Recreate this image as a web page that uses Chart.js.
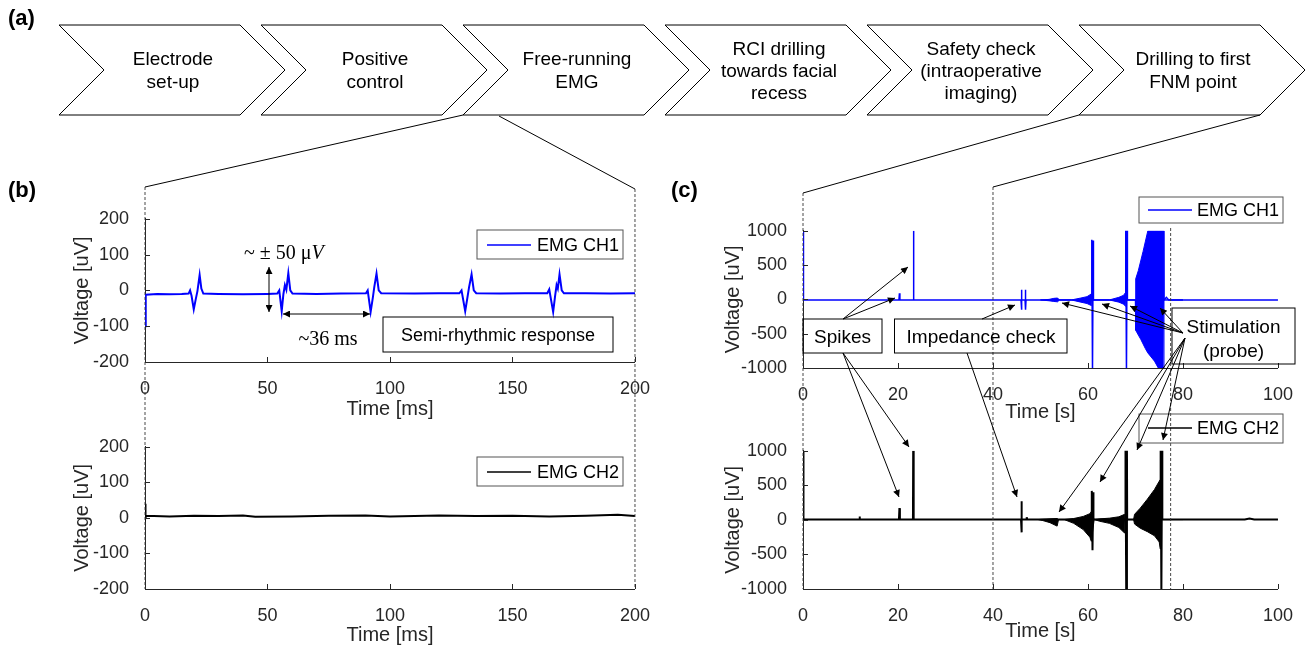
<!DOCTYPE html>
<html>
<head>
<meta charset="utf-8">
<script src="https://cdn.jsdelivr.net/npm/chart.js@4.4.1/dist/chart.umd.min.js"></script>
<style>
  html, body { margin: 0; padding: 0; background: #fff; overflow: hidden; }
  #page { position: relative; width: 1307px; height: 645px; }
  canvas { position: absolute; }
  #over { position: absolute; left: 0; top: 0; }
  #over text { font-family: "Liberation Sans", Arial, sans-serif; fill: #000; }
  #over .serif { font-family: "Liberation Serif", "Times New Roman", serif; }
</style>
</head>
<body>
<div id="page">
  <canvas id="b1" width="598" height="222" style="left:60px;top:200px"></canvas>
  <canvas id="b2" width="598" height="221" style="left:60px;top:428px"></canvas>
  <canvas id="c1" width="591" height="216" style="left:710px;top:212px"></canvas>
  <canvas id="c2" width="591" height="217" style="left:710px;top:432px"></canvas>

  <svg id="over" width="1307" height="645">
    <defs>
      <marker id="ah" viewBox="0 0 10 10" refX="10" refY="5" markerWidth="9" markerHeight="7"
              markerUnits="userSpaceOnUse" orient="auto-start-reverse">
        <path d="M0,0 L10,5 L0,10 z" fill="#000"/>
      </marker>
    </defs>
    <g id="chevrons"></g>
    <g id="guides" stroke="#333" stroke-width="1" fill="none"></g>

    <!-- panel labels -->
    <text x="8" y="17" font-size="22" font-weight="bold" dominant-baseline="central">(a)</text>
    <text x="8" y="189" font-size="22" font-weight="bold" dominant-baseline="central">(b)</text>
    <text x="671" y="189" font-size="22" font-weight="bold" dominant-baseline="central">(c)</text>

    <!-- (b) annotations -->
    <rect x="477" y="230" width="146" height="29" fill="none" stroke="#555" stroke-width="1"/>
    <line x1="487" y1="245" x2="531" y2="245" stroke="#0000ff" stroke-width="1.5"/>
    <text x="537" y="245" font-size="18" dominant-baseline="central">EMG CH1</text>

    <rect x="477" y="457" width="146" height="29" fill="none" stroke="#555" stroke-width="1"/>
    <line x1="487" y1="472" x2="531" y2="472" stroke="#000" stroke-width="1.5"/>
    <text x="537" y="472" font-size="18" dominant-baseline="central">EMG CH2</text>

    <rect x="383" y="317" width="230" height="35" fill="none" stroke="#000" stroke-width="1"/>
    <text x="498" y="335" font-size="18" text-anchor="middle" dominant-baseline="central">Semi-rhythmic response</text>

    <text class="serif" x="244" y="252" font-size="20" dominant-baseline="central">~ ± 50 μ<tspan font-style="italic">V</tspan></text>
    <line x1="269" y1="267" x2="269" y2="312" stroke="#000" stroke-width="1" marker-start="url(#ah)" marker-end="url(#ah)"/>
    <line x1="283" y1="314" x2="370" y2="314" stroke="#000" stroke-width="1" marker-start="url(#ah)" marker-end="url(#ah)"/>
    <text class="serif" x="328" y="338" font-size="20" text-anchor="middle" dominant-baseline="central">~36 ms</text>

    <!-- (c) annotations -->
    <rect x="1139" y="197" width="144" height="26" fill="none" stroke="#555" stroke-width="1"/>
    <line x1="1148" y1="210" x2="1192" y2="210" stroke="#0000ff" stroke-width="1.5"/>
    <text x="1197" y="210" font-size="18" dominant-baseline="central">EMG CH1</text>

    <rect x="1139" y="414" width="144" height="29" fill="none" stroke="#555" stroke-width="1"/>
    <line x1="1148" y1="428" x2="1192" y2="428" stroke="#000" stroke-width="1.5"/>
    <text x="1197" y="428" font-size="18" dominant-baseline="central">EMG CH2</text>

    <rect x="803" y="319" width="79" height="34" fill="none" stroke="#000" stroke-width="1"/>
    <text x="842.5" y="336" font-size="19" text-anchor="middle" dominant-baseline="central">Spikes</text>
    <rect x="894.5" y="319" width="172.5" height="34" fill="none" stroke="#000" stroke-width="1"/>
    <text x="981" y="336" font-size="19" text-anchor="middle" dominant-baseline="central">Impedance check</text>
    <rect x="1172" y="308" width="123" height="56" fill="none" stroke="#000" stroke-width="1"/>
    <text x="1233.5" y="326" font-size="19" text-anchor="middle" dominant-baseline="central">Stimulation</text>
    <text x="1233.5" y="350" font-size="19" text-anchor="middle" dominant-baseline="central">(probe)</text>

    <g stroke="#000" stroke-width="1" marker-end="url(#ah)">
      <line x1="843" y1="319" x2="908" y2="267"/>
      <line x1="843" y1="319" x2="895" y2="298"/>
      <line x1="843" y1="353" x2="899" y2="497"/>
      <line x1="843" y1="353" x2="909" y2="447"/>
      <line x1="982" y1="319" x2="1015" y2="305"/>
      <line x1="967" y1="353" x2="1017" y2="497"/>
      <line x1="1183" y1="333" x2="1062" y2="303"/>
      <line x1="1183" y1="333" x2="1102" y2="304"/>
      <line x1="1183" y1="333" x2="1130" y2="306"/>
      <line x1="1183" y1="333" x2="1160" y2="308"/>
      <line x1="1185" y1="338" x2="1059" y2="512"/>
      <line x1="1185" y1="338" x2="1100" y2="482"/>
      <line x1="1185" y1="338" x2="1137" y2="450"/>
      <line x1="1185" y1="338" x2="1163" y2="440"/>
    </g>
  </svg>
</div>

<script>
// Workflow steps (a)
const steps = [
  ["Electrode", "set-up"],
  ["Positive", "control"],
  ["Free-running", "EMG"],
  ["RCI drilling", "towards facial", "recess"],
  ["Safety check", "(intraoperative", "imaging)"],
  ["Drilling to first", "FNM point"]
];

// Axis ticks
const bXTicks = [0, 50, 100, 150, 200];
const bYTicks = [-200, -100, 0, 100, 200];
const cXTicks = [0, 20, 40, 60, 80, 100];
const cYTicks = [-1000, -500, 0, 500, 1000];

// (b) free-running EMG, time in ms, voltage in uV
const b1T = [0, 0.3, 5, 10, 15,
  17.8, 18.4, 19.0, 19.9, 20.7, 21.4, 22.3, 23.0, 23.8,
  30, 40, 50, 54.0, 54.8, 55.8, 56.5, 57.1, 57.7, 58.5, 59.3, 60.2,
  70, 80, 90.2, 90.9, 92.1, 93.0, 93.6, 94.5, 95.4, 96.4,
  110, 120, 128.3, 129.2, 130.7, 131.6, 132.3, 133.3, 134.2, 135.2,
  145, 155, 164.2, 165.0, 166.6, 167.4, 168.0, 168.5, 169.2, 170.1, 171.0,
  180, 190, 200];
const b1V = [-100, -12, -10, -11, -10,
  -9, 0, -15, -53, -25, -2, 43, 5, -9,
  -10, -11, -10, -9, 0, -58, -10, 15, 2, 48, 0, -9,
  -10, -9, -8, 0, -60, -20, 10, 47, 0, -8,
  -9, -8, -8, 0, -58, -20, 10, 45, 0, -8,
  -9, -8, -8, 3, -60, -15, 15, 5, 45, 0, -8,
  -8, -9, -8];

const b2T = [0, 0.2, 0.5, 10, 20, 30, 40, 45, 60, 75, 90, 100, 120, 135, 150, 165, 180, 193, 200];
const b2V = [40, 0, 6, 4, 6, 5, 7, 3, 4, 6, 7, 4, 7, 5, 6, 4, 6, 9, 5];

// (c) drilling session, time in s, voltage in uV
const c1T = [0, 0.1, 20.2, 20.3, 20.4, 23.2, 23.25, 23.35,
  45.9, 45.95, 46.05, 46.1, 46.75, 46.8, 46.9, 46.95,
  60.75, 60.8, 60.95, 61.1, 61.15, 67.9, 67.95, 68.1, 68.25, 68.3,
  76.0, 76.5, 77.0, 100];
const c1V = [1000, -8, -8, 90, -8, -8, 1000, -8,
  -8, 140, -150, -8, -8, 140, -150, -8,
  -8, 870, -1050, 860, -8, -8, 1050, -1050, 1050, -8,
  -8, 30, -8, -8];
// envelope of dense stimulation bursts on CH1
const c1EnvT = [50, 51.8, 52.8, 53.6, 54.0, 56.5, 58.5, 59.8, 60.7, 60.8,
  64.5, 66.5, 67.5, 67.9, 68.0, 69.95, 70.05, 70.6, 71.1, 71.6, 72.1, 72.6, 74.0, 74.8, 75.9, 76.0, 80];
const c1EnvUp = [-8, 0, 15, 20, -8, -8, 20, 40, 80, -8,
  -8, 30, 60, 100, -8, -8, 300, 420, 560, 700, 850, 1000, 1000, 1000, 1000, -8, -8];
const c1EnvLo = [-8, -20, -30, -35, -8, -8, -40, -60, -90, -8,
  -8, -40, -70, -100, -8, -8, -450, -520, -580, -650, -720, -780, -900, -1000, -1000, -8, -8];

const c2T = [0, 0.1, 11.8, 11.9, 12.0, 20.2, 20.3, 20.4, 23.15, 23.2, 23.3,
  45.9, 45.95, 46.05, 46.1, 47.0, 47.1, 47.2,
  60.75, 60.8, 60.95, 61.1, 61.15, 67.85, 67.9, 68.05, 68.2, 68.25,
  75.25, 75.3, 75.45, 75.6, 75.65, 93, 94, 95, 100];
const c2V = [1000, 5, 5, 50, 5, 5, 170, 5, 5, 1000, 5,
  5, 270, -180, 5, 5, 40, 5,
  5, 420, -440, 400, 5, 5, 1050, -1050, 1050, 5,
  5, 1050, -1050, 1050, 5, 5, 20, 5, 5];
// envelope of stimulation responses on CH2
const c2EnvT = [49.5, 50.5, 52, 53.5, 53.8, 55.0, 57, 59, 60.4, 60.7, 61.3,
  62.5, 64.5, 66.5, 67.7, 67.8, 69.6, 69.8, 71, 72.5, 74, 75.0, 75.2, 75.3, 80];
const c2EnvUp = [5, 10, 15, 20, 5, 5, 20, 50, 90, 120, 5,
  15, 25, 45, 80, 5, 5, 80, 170, 300, 440, 560, 580, 5, 5];
const c2EnvLo = [5, -10, -40, -90, 5, 5, -50, -140, -250, -310, 5,
  -20, -50, -110, -190, 5, 5, -60, -120, -170, -230, -320, -420, 5, 5];

const BLUE = "#0000ff";
const AXIS = "#262626";

Chart.defaults.font.family = '"Liberation Sans", Arial, sans-serif';
Chart.defaults.color = AXIS;

function pts(t, v) {
  return t.map((x, i) => ({ x: x, y: v[i] }));
}

function line(t, v, color, width) {
  return { data: pts(t, v), borderColor: color, borderWidth: width, pointRadius: 0, fill: false };
}

// MATLAB style ticks pointing into the plot
const inwardTicks = {
  id: "inwardTicks",
  afterDatasetsDraw(chart) {
    const { ctx, chartArea: a, scales } = chart;
    ctx.save();
    ctx.strokeStyle = AXIS;
    ctx.lineWidth = 1;
    ctx.beginPath();
    scales.x.ticks.forEach(t => {
      const px = Math.round(scales.x.getPixelForValue(t.value)) + 0.5;
      ctx.moveTo(px, a.bottom);
      ctx.lineTo(px, a.bottom - 5);
    });
    scales.y.ticks.forEach(t => {
      const py = Math.round(scales.y.getPixelForValue(t.value)) + 0.5;
      ctx.moveTo(a.left, py);
      ctx.lineTo(a.left + 5, py);
    });
    ctx.stroke();
    ctx.restore();
  }
};

function makeChart(id, opt) {
  return new Chart(document.getElementById(id), {
    type: "line",
    data: { datasets: opt.datasets },
    options: {
      responsive: false,
      animation: false,
      events: [],
      layout: { padding: { top: 15, right: 20, left: 0, bottom: 0 } },
      plugins: { legend: { display: false }, tooltip: { enabled: false } },
      scales: {
        x: {
          type: "linear",
          min: opt.xTicks[0],
          max: opt.xTicks[opt.xTicks.length - 1],
          afterBuildTicks: s => { s.ticks = opt.xTicks.map(v => ({ value: v })); },
          afterFit: s => { s.height = 60; },
          grid: { display: false },
          border: { display: true, color: AXIS, width: 1 },
          ticks: { font: { size: 18 }, padding: 8, maxRotation: 0, callback: v => String(v) },
          title: { display: true, text: opt.xTitle, font: { size: 20 }, padding: { top: 0, bottom: opt.xTitlePad } }
        },
        y: {
          type: "linear",
          min: opt.yTicks[0],
          max: opt.yTicks[opt.yTicks.length - 1],
          afterBuildTicks: s => { s.ticks = opt.yTicks.map(v => ({ value: v })); },
          afterFit: s => { s.width = opt.yWidth; },
          grid: { display: false },
          border: { display: true, color: AXIS, width: 1 },
          ticks: { font: { size: 18 }, padding: 8, callback: v => String(v) },
          title: { display: true, text: "Voltage [uV]", font: { size: 20 }, padding: { top: opt.yTitlePad, bottom: 0 } }
        }
      }
    },
    plugins: [inwardTicks]
  });
}

const b1 = makeChart("b1", {
  xTicks: bXTicks, yTicks: bYTicks, xTitle: "Time [ms]", xTitlePad: 1, yTitlePad: 10, yWidth: 85,
  datasets: [line(b1T, b1V, BLUE, 2)]
});
const b2 = makeChart("b2", {
  xTicks: bXTicks, yTicks: bYTicks, xTitle: "Time [ms]", xTitlePad: 2, yTitlePad: 10, yWidth: 85,
  datasets: [line(b2T, b2V, "#000", 2)]
});
const c1 = makeChart("c1", {
  xTicks: cXTicks, yTicks: cYTicks, xTitle: "Time [s]", xTitlePad: 4, yTitlePad: 11, yWidth: 93,
  datasets: [
    Object.assign(line(c1EnvT, c1EnvUp, BLUE, 1), { fill: "+1", backgroundColor: BLUE }),
    line(c1EnvT, c1EnvLo, BLUE, 1),
    line(c1T, c1V, BLUE, 1.5)
  ]
});
const c2 = makeChart("c2", {
  xTicks: cXTicks, yTicks: cYTicks, xTitle: "Time [s]", xTitlePad: 6, yTitlePad: 11, yWidth: 93,
  datasets: [
    Object.assign(line(c2EnvT, c2EnvUp, "#000", 1), { fill: "+1", backgroundColor: "#000" }),
    line(c2EnvT, c2EnvLo, "#000", 1),
    line(c2T, c2V, "#000", 2)
  ]
});

// Overlay: chevrons, zoom guides and dashed markers
const NS = "http://www.w3.org/2000/svg";
function el(parent, name, attrs, text) {
  const e = document.createElementNS(NS, name);
  for (const k in attrs) e.setAttribute(k, attrs[k]);
  if (text) e.textContent = text;
  parent.appendChild(e);
  return e;
}

const chevLeft = [59, 261, 463, 665, 867, 1079];
const chevG = document.getElementById("chevrons");
steps.forEach((lines, i) => {
  const l = chevLeft[i], top = 25, bot = 115, mid = 70;
  el(chevG, "polygon", {
    points: `${l},${top} ${l + 181},${top} ${l + 226},${mid} ${l + 181},${bot} ${l},${bot} ${l + 45},${mid}`,
    fill: "#fff", stroke: "#000", "stroke-width": 1
  });
  const gap = lines.length === 3 ? 22 : 23;
  const y0 = mid - gap * (lines.length - 1) / 2;
  lines.forEach((s, j) => {
    el(chevG, "text", {
      x: l + 114, y: y0 + j * gap, "font-size": 19, "text-anchor": "middle", "dominant-baseline": "central"
    }, s);
  });
});

function pageX(chart, v) {
  return chart.canvas.offsetLeft + chart.scales.x.getPixelForValue(v);
}
function pageY(chart, v) {
  return chart.canvas.offsetTop + chart.scales.y.getPixelForValue(v);
}

const guides = document.getElementById("guides");
const bBottom = pageY(b2, -200);
const cBottom = pageY(c2, -1000);
const bL = pageX(b1, 0), bR = pageX(b1, 200);
const cL = pageX(c1, 0), cM = pageX(c1, 40), cR = pageX(c1, 77.4);

[[bL, 187], [bR, 189], [cL, 193], [cM, 187], [cR, 228]].forEach(([x, y]) => {
  el(guides, "line", { x1: x, y1: y, x2: x, y2: y === 228 ? cBottom : (x < 700 ? bBottom : cBottom), "stroke-dasharray": "3 2", "stroke-width": 0.9 });
});
el(guides, "line", { x1: bL, y1: 187, x2: 463, y2: 115, stroke: "#000" });
el(guides, "line", { x1: bR, y1: 189, x2: 499, y2: 116, stroke: "#000" });
el(guides, "line", { x1: cL, y1: 193, x2: 1079, y2: 115, stroke: "#000" });
el(guides, "line", { x1: cM, y1: 187, x2: 1260, y2: 115, stroke: "#000" });
</script>
</body>
</html>
